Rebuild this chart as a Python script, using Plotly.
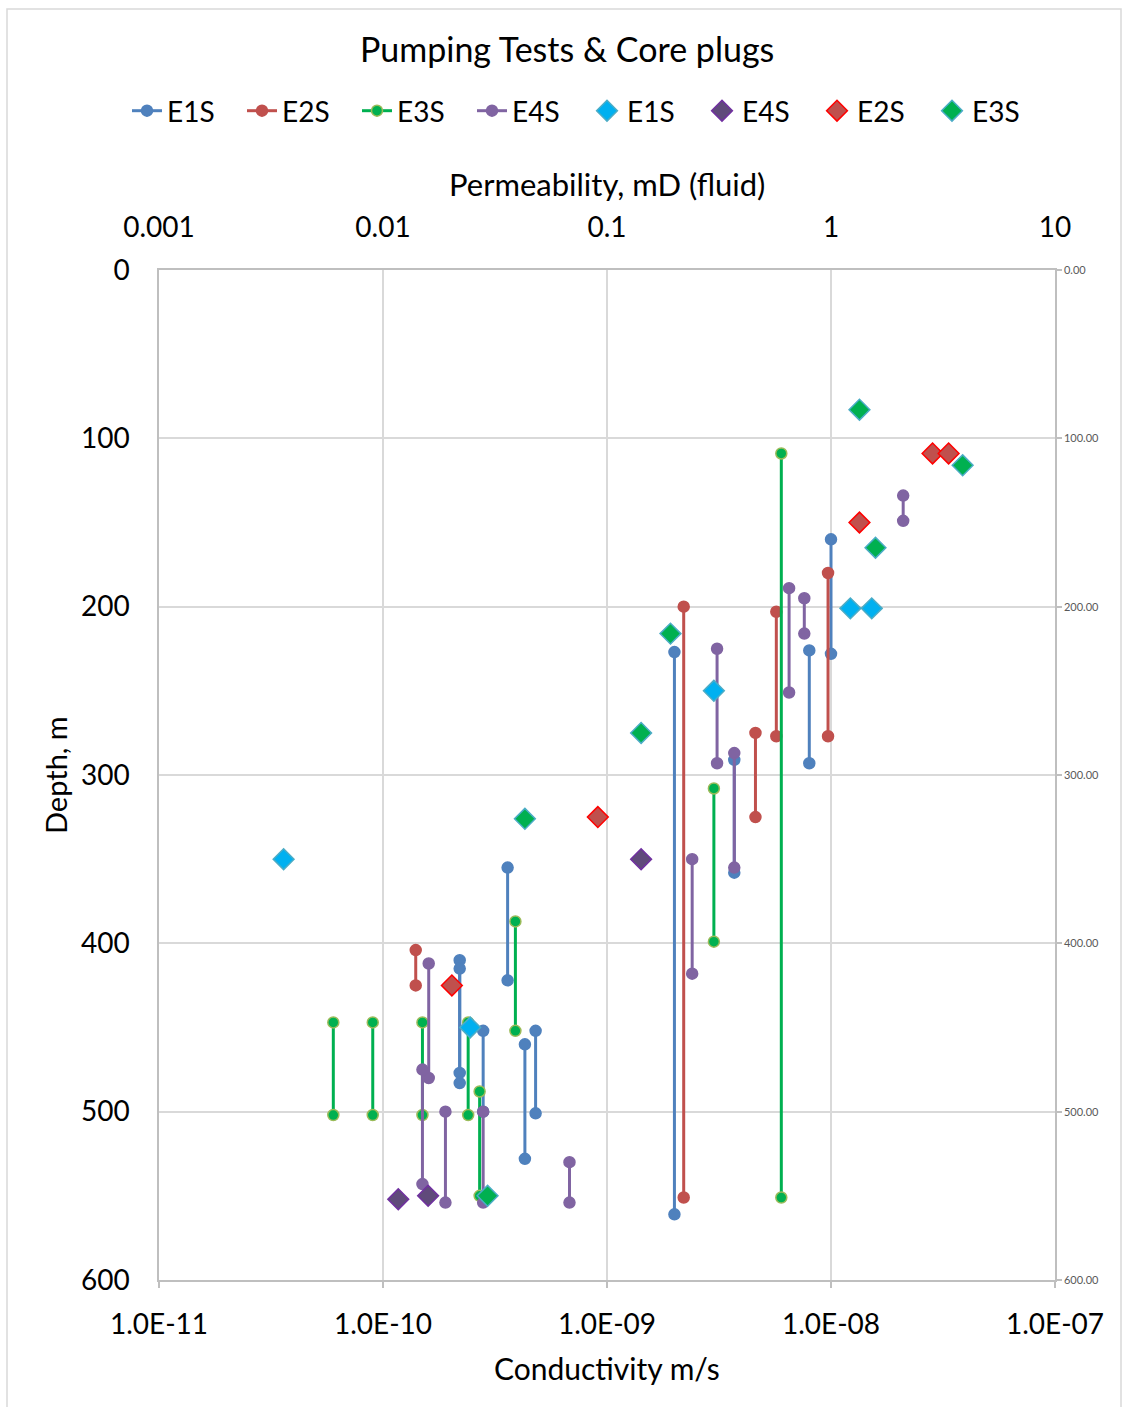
import plotly.graph_objects as go

# ---------------- data ----------------
# Pumping tests: vertical intervals (conductivity m/s, top depth m, bottom depth m)
e1s_k   = [2.0e-9, 1.0e-8, 8.0e-9, 3.7e-9, 3.6e-10, 2.2e-10, 2.2e-10, 2.8e-10, 4.3e-10, 4.8e-10]
e1s_top = [227, 160, 226, 291, 355, 410, 415, 452, 460, 452]
e1s_bot = [561, 228, 293, 358, 422, 477, 483, 500, 528, 501]

e2s_k   = [2.2e-9, 5.7e-9, 4.6e-9, 9.7e-9, 1.4e-10]
e2s_top = [200, 203, 275, 180, 404]
e2s_bot = [551, 277, 325, 277, 425]

e3s_k   = [6.0e-9, 3.0e-9, 3.9e-10, 6.0e-11, 9.0e-11, 1.5e-10, 2.4e-10, 2.7e-10]
e3s_top = [109, 308, 387, 447, 447, 447, 447, 488]
e3s_bot = [551, 399, 452, 502, 502, 502, 502, 550]

e4s_k   = [1.6e-10, 1.5e-10, 1.9e-10, 2.8e-10, 6.8e-10, 2.4e-9, 3.7e-9, 3.1e-9, 6.5e-9, 7.6e-9, 2.1e-8]
e4s_top = [412, 475, 500, 500, 530, 350, 287, 225, 189, 195, 134]
e4s_bot = [480, 543, 554, 554, 554, 418, 355, 293, 251, 216, 149]

# Core plugs: points (conductivity m/s, depth m)
c_e1s_k = [3.6e-11, 2.45e-10, 3.0e-9, 1.22e-8, 1.52e-8]
c_e1s_d = [350, 450, 250, 201, 201]
c_e4s_k = [1.17e-10, 1.59e-10, 1.42e-9]
c_e4s_d = [552, 550, 350]
c_e2s_k = [2.03e-10, 9.1e-10, 1.34e-8, 2.84e-8, 3.35e-8]
c_e2s_d = [425, 325, 150, 109, 109]
c_e3s_k = [1.34e-8, 3.87e-8, 1.58e-8, 1.92e-9, 1.42e-9, 4.3e-10, 2.93e-10]
c_e3s_d = [83, 116, 165, 216, 275, 326, 550]

x_tickvals = [1e-11, 1e-10, 1e-9, 1e-8, 1e-7]
x_ticktext = ["1.0E-11", "1.0E-10", "1.0E-09", "1.0E-08", "1.0E-07"]
top_tickvals = [0.001, 0.01, 0.1, 1, 10]
top_ticktext = ["0.001", "0.01", "0.1", "1", "10"]
y_tickvals = [0, 100, 200, 300, 400, 500, 600]
y_ticktext = ["0", "100", "200", "300", "400", "500", "600"]
y2_ticktext = ["0.00", "100.00", "200.00", "300.00", "400.00", "500.00", "600.00"]

# ---------------- styling ----------------
FONT = "Lato, Calibri, sans-serif"
W, H = 1122, 1407
L, R, T, B = 159, 67, 270, 127
PW, PH = W - L - R, H - T - B
GRID = "#D9D9D9"
AXIS = "#BFBFBF"


def px_x(p):
    return (p - L) / PW


def px_y(p):
    return (H - B - p) / PH


def segs(k, top, bot):
    xs, ys = [], []
    for kk, t, b in zip(k, top, bot):
        xs += [kk, kk, None]
        ys += [t, b, None]
    return xs, ys


fig = go.Figure()

line_series = [
    ("E1S", e1s_k, e1s_top, e1s_bot, "#4F81BD", "#4F81BD", "#4F81BD"),
    ("E2S", e2s_k, e2s_top, e2s_bot, "#C0504D", "#C0504D", "#C0504D"),
    ("E3S", e3s_k, e3s_top, e3s_bot, "#00B050", "#00B050", "#9BBB59"),
    ("E4S", e4s_k, e4s_top, e4s_bot, "#8064A2", "#8064A2", "#8064A2"),
]
for name, k, t, b, lc, mc, mlc in line_series:
    xs, ys = segs(k, t, b)
    fig.add_trace(go.Scatter(
        x=xs, y=ys, name=name, mode="lines+markers", connectgaps=False,
        line=dict(color=lc, width=3),
        marker=dict(symbol="circle", size=11, color=mc, line=dict(color=mlc, width=1.5)),
    ))

core_series = [
    ("E1S", c_e1s_k, c_e1s_d, "#00B0F0", "#4BACC6"),
    ("E4S", c_e4s_k, c_e4s_d, "#604A7B", "#7030A0"),
    ("E2S", c_e2s_k, c_e2s_d, "#C0504D", "#FF0000"),
    ("E3S", c_e3s_k, c_e3s_d, "#00B050", "#4BACC6"),
]
for name, k, d, fc, lc in core_series:
    fig.add_trace(go.Scatter(
        x=k, y=d, name=name, mode="markers",
        marker=dict(symbol="diamond", size=16, color=fc, line=dict(color=lc, width=1.5)),
    ))

# empty carrier traces so the secondary (top / right) axes are drawn
fig.add_trace(go.Scatter(x=top_tickvals, y=[None] * len(top_tickvals), xaxis="x2", yaxis="y",
                         mode="markers", showlegend=False, hoverinfo="skip"))
fig.add_trace(go.Scatter(x=[None] * len(y_tickvals), y=y_tickvals, xaxis="x", yaxis="y2",
                         mode="markers", showlegend=False, hoverinfo="skip"))

fig.update_layout(
    width=W, height=H, autosize=False,
    margin=dict(l=L, r=R, t=T, b=B),
    paper_bgcolor="white", plot_bgcolor="white",
    font=dict(family=FONT, size=28, color="#000000"),
    showlegend=True,
    legend=dict(
        orientation="h", x=px_x(127), y=px_y(111), xanchor="left", yanchor="middle",
        font=dict(family=FONT, size=28, color="#000000"),
        entrywidth=70, entrywidthmode="pixels", traceorder="normal",
        bgcolor="rgba(0,0,0,0)",
    ),
    xaxis=dict(
        type="log", range=[-11, -7], tickvals=x_tickvals, ticktext=x_ticktext,
        showgrid=True, gridcolor=GRID, gridwidth=1.5,
        showline=True, linecolor=AXIS, linewidth=1.5,
        ticks="outside", ticklen=6, tickcolor=AXIS, tickwidth=1.5,
        ticklabelstandoff=13, tickfont=dict(size=28), zeroline=False,
    ),
    xaxis2=dict(
        type="log", range=[-3, 1], overlaying="x", side="top", anchor="y",
        tickvals=top_tickvals, ticktext=top_ticktext,
        showgrid=False, showline=True, linecolor=AXIS, linewidth=1.5,
        ticks="", ticklabelstandoff=20, tickfont=dict(size=28),
    ),
    yaxis=dict(
        range=[600, 0], tickvals=y_tickvals, ticktext=y_ticktext,
        showgrid=True, gridcolor=GRID, gridwidth=1.5,
        showline=True, linecolor=AXIS, linewidth=1.5,
        ticks="", ticklabelstandoff=22, tickfont=dict(size=28), zeroline=False,
    ),
    yaxis2=dict(
        range=[600, 0], overlaying="y", side="right", anchor="x",
        tickvals=y_tickvals, ticktext=y2_ticktext,
        showgrid=False, showline=True, linecolor=AXIS, linewidth=1.5,
        ticks="outside", ticklen=5, tickcolor=AXIS, tickwidth=1.5,
        tickfont=dict(size=11, color="#595959"), zeroline=False,
    ),
)

annotations = [
    dict(text="Pumping Tests &amp; Core plugs", x=px_x(567), y=px_y(48), size=34),
    dict(text="Permeability, mD (fluid)", x=px_x(607), y=px_y(184), size=31),
    dict(text="Conductivity m/s", x=px_x(607), y=px_y(1368), size=30),
]
for a in annotations:
    fig.add_annotation(xref="paper", yref="paper", xanchor="center", yanchor="middle",
                       showarrow=False, text=a["text"], x=a["x"], y=a["y"],
                       font=dict(family=FONT, size=a["size"], color="#000000"))
fig.add_annotation(text="Depth, m", xref="paper", yref="paper", x=px_x(55), y=px_y(775),
                   xanchor="center", yanchor="middle", textangle=-90, showarrow=False,
                   font=dict(family=FONT, size=29, color="#000000"))

# outer chart frame
fig.add_shape(type="rect", xref="paper", yref="paper",
              x0=px_x(7), x1=px_x(1121), y0=px_y(1412), y1=px_y(9),
              line=dict(color="#D9D9D9", width=1.5), fillcolor="rgba(0,0,0,0)", layer="below")

fig.write_html("out.html", config={"displayModeBar": False},
               post_script="document.body.style.margin='0';")
